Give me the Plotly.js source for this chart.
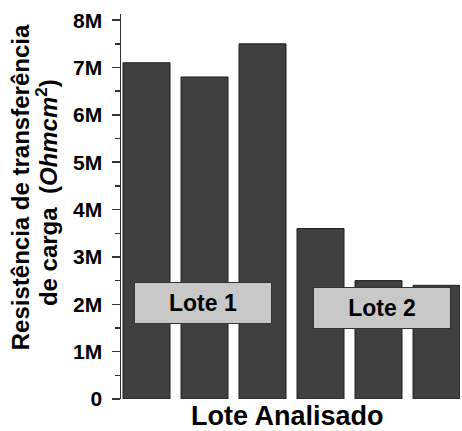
<!DOCTYPE html>
<html>
<head>
<meta charset="utf-8">
<script src="https://cdn.plot.ly/plotly-3.0.1.min.js"></script>
<style>html,body{margin:0;padding:0;background:#fff;}#chart{width:462px;height:431px;}</style>
</head>
<body>
<div id="chart"></div>
<script>
// Data
const categories = ['Amostra 1', 'Amostra 2', 'Amostra 3', 'Amostra 4', 'Amostra 5', 'Amostra 6'];
const resistance = [7100000, 6800000, 7500000, 3600000, 2500000, 2400000];
const tickValues = [0, 1000000, 2000000, 3000000, 4000000, 5000000, 6000000, 7000000, 8000000];
const tickLabels = ['0', '1M', '2M', '3M', '4M', '5M', '6M', '7M', '8M'];
const groupLabels = ['Lote 1', 'Lote 2'];
const groupCenters = ['Amostra 2', 'Amostra 5'];
const yTitleLines = ['Resistência de transferência', 'de carga&nbsp;&nbsp;(<i>Ohmcm</i><sup>2</sup>)'];

const FONT = 'Arial, "Liberation Sans", Helvetica, sans-serif';

const trace = {
  type: 'bar',
  x: categories,
  y: resistance,
  marker: {color: '#404040', line: {color: '#1e1e1e', width: 1}},
  hoverinfo: 'none'
};

const layout = {
  width: 462, height: 431,
  margin: {l: 121, r: 2, t: 14, b: 32},
  paper_bgcolor: '#fff', plot_bgcolor: '#fff',
  showlegend: false,
  bargap: 0.19,
  font: {family: FONT, color: '#000'},
  xaxis: {
    type: 'category',
    range: [-0.44, 5.405],
    showticklabels: false, ticks: '', showline: false, showgrid: false, zeroline: false
  },
  yaxis: {
    range: [0, 8130000],
    tickvals: tickValues, ticktext: tickLabels,
    ticks: 'outside', ticklen: 8, tickwidth: 1.5, tickcolor: '#333',
    minor: {dtick: 500000, ticks: 'outside', ticklen: 5, tickwidth: 1.5, tickcolor: '#333', showgrid: false},
    showline: true, linecolor: '#333', linewidth: 1.5,
    showgrid: false, zeroline: false,
    ticklabelstandoff: 5,
    tickfont: {family: FONT, size: 21, weight: 'bold', color: '#000'}
  },
  annotations: [
    {
      text: yTitleLines[0],
      xref: 'paper', yref: 'paper', x: -0.298, y: 0.55,
      xanchor: 'center', yanchor: 'middle', textangle: -90, showarrow: false,
      font: {family: FONT, size: 24, weight: 'bold', color: '#000'}
    },
    {
      text: yTitleLines[1],
      xref: 'paper', yref: 'paper', x: -0.218, y: 0.535,
      xanchor: 'center', yanchor: 'middle', textangle: -90, showarrow: false,
      font: {family: FONT, size: 24, weight: 'bold', color: '#000'}
    },
    {
      text: 'Lote Analisado',
      xref: 'paper', yref: 'paper', x: 0.49, y: 0, yanchor: 'top', yshift: 0,
      xanchor: 'center', showarrow: false,
      font: {family: FONT, size: 27, weight: 'bold', color: '#000'}
    },
    {
      text: groupLabels[0], xref: 'x', yref: 'y', x: groupCenters[0], xshift: -2, y: 2020000,
      showarrow: false, width: 136, height: 40, bgcolor: '#c8c8c8', bordercolor: '#333', borderwidth: 1, borderpad: 0,
      font: {family: FONT, size: 23, weight: 'bold', color: '#000'}
    },
    {
      text: groupLabels[1], xref: 'x', yref: 'y', x: groupCenters[1], xshift: 3, y: 1930000,
      showarrow: false, width: 136, height: 40, bgcolor: '#c8c8c8', bordercolor: '#333', borderwidth: 1, borderpad: 0,
      font: {family: FONT, size: 23, weight: 'bold', color: '#000'}
    }
  ]
};

Plotly.newPlot('chart', [trace], layout, {displayModeBar: false, staticPlot: true});
</script>
</body>
</html>
